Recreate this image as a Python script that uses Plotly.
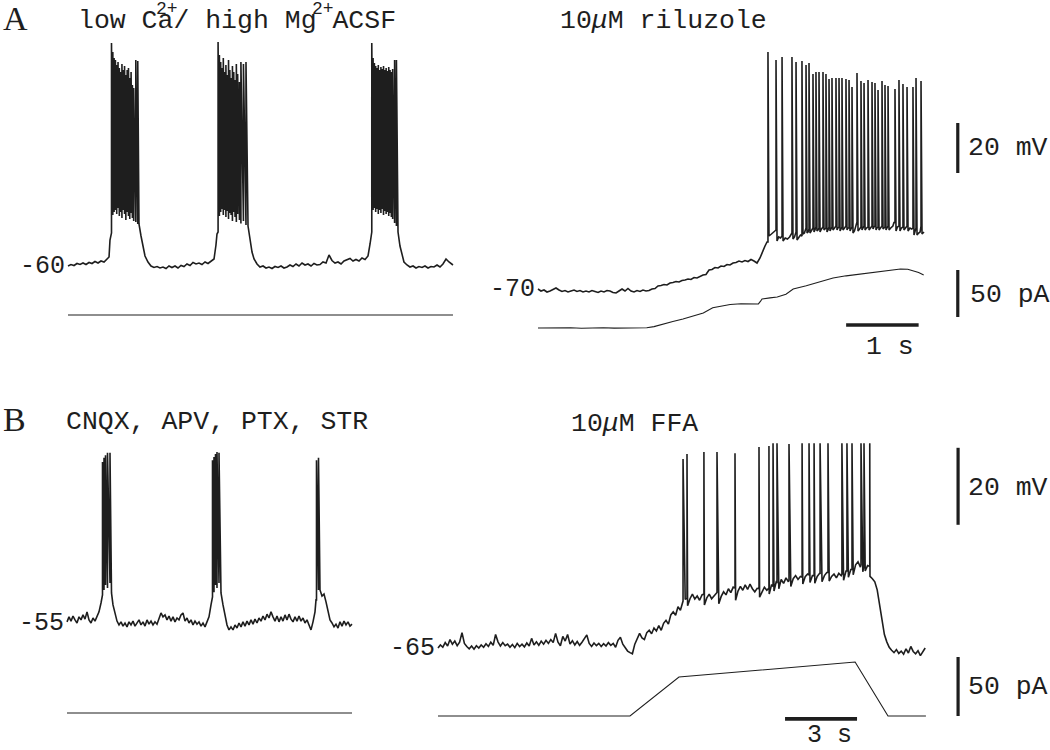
import plotly.graph_objects as go

W, H = 1050, 750
INK = "#1e1e1e"
MONO = "Liberation Mono, Courier New, monospace"
SERIF = "Liberation Serif, Times New Roman, serif"

# ---------------- A left: low Ca2+ / high Mg2+ ACSF (s, mV) ----------------
ACSF_T = [0.000, 0.041, 0.083, 0.124, 0.166, 0.207, 0.248, 0.290, 0.331, 0.372,
          0.414, 0.455, 0.497, 0.538, 0.566, 0.579, 0.593,
          0.979, 1.007, 1.034, 1.062, 1.103, 1.145, 1.186, 1.228, 1.269, 1.310,
          1.352, 1.393, 1.434, 1.476, 1.517, 1.559, 1.600, 1.641, 1.683, 1.724,
          1.766, 1.807, 1.848, 1.890, 1.931, 1.972, 2.014, 2.041, 2.055,
          2.483, 2.510, 2.538, 2.566, 2.607, 2.648, 2.690, 2.731, 2.772, 2.814,
          2.855, 2.897, 2.938, 2.979, 3.021, 3.062, 3.103, 3.145, 3.186, 3.228,
          3.269, 3.310, 3.352, 3.393, 3.434, 3.476, 3.517, 3.559, 3.600, 3.641,
          3.683, 3.724, 3.766, 3.807, 3.848, 3.890, 3.931, 3.972, 4.014, 4.055,
          4.097, 4.138, 4.166, 4.179,
          4.552, 4.579, 4.607, 4.634, 4.676, 4.717, 4.759, 4.800, 4.841, 4.883,
          4.924, 4.966, 5.007, 5.048, 5.090, 5.131, 5.172, 5.214, 5.255, 5.297, 5.310]
ACSF_V = [-60.0, -59.4, -59.8, -59.0, -59.4, -58.8, -59.4, -58.6, -59.0, -58.2,
          -58.8, -58.0, -58.4, -57.2, -56.4, -49.6, -46.8,
          -43.2, -48.0, -52.8, -56.0, -58.4, -60.0, -60.6, -60.2, -60.8, -60.4,
          -61.0, -60.0, -60.6, -60.0, -60.8, -59.8, -60.2, -59.2, -59.8, -58.6,
          -59.2, -58.8, -59.4, -58.4, -59.0, -58.2, -57.2, -51.6, -47.2,
          -44.0, -49.6, -54.4, -57.2, -59.2, -60.4, -60.0, -60.8, -60.4, -61.0,
          -60.2, -60.6, -60.0, -60.8, -60.4, -59.6, -60.2, -59.2, -60.0, -58.8,
          -59.6, -59.2, -60.0, -59.0, -59.6, -59.4, -58.4, -58.8, -55.6, -57.8,
          -58.8, -58.4, -59.2, -58.0, -57.6, -57.0, -58.0, -57.4, -58.0, -56.8,
          -57.4, -56.0, -51.2, -47.2,
          -46.4, -52.0, -56.0, -58.4, -59.6, -60.4, -60.0, -60.8, -60.2, -60.6,
          -60.0, -60.8, -60.2, -60.4, -59.6, -60.4, -59.2, -57.2, -58.4, -59.2, -59.6]
ACSF_SPK_T = [0.600, 0.618, 0.636, 0.654, 0.672, 0.690, 0.708, 0.726, 0.744, 0.762,
              0.780, 0.798, 0.816, 0.834, 0.852, 0.870, 0.888, 0.906, 0.935, 0.962,
              2.070, 2.088, 2.106, 2.124, 2.142, 2.160, 2.178, 2.196, 2.214, 2.232,
              2.250, 2.268, 2.286, 2.304, 2.322, 2.340, 2.365, 2.385, 2.420, 2.455,
              4.190, 4.208, 4.226, 4.244, 4.262, 4.280, 4.298, 4.316, 4.334, 4.352,
              4.370, 4.388, 4.406, 4.424, 4.442, 4.460, 4.478, 4.505, 4.530]
ACSF_SPK_FOOT = [-46.8, -39.6, -38.4, -37.6, -39.2, -36.8, -40.0, -38.4, -40.8, -37.6,
                 -39.2, -41.6, -38.4, -40.0, -41.2, -38.8, -40.8, -42.0, -42.4, -43.2,
                 -46.4, -40.0, -38.4, -37.2, -39.6, -37.6, -40.4, -38.0, -41.2, -38.8,
                 -39.6, -42.0, -38.4, -40.4, -42.4, -39.2, -41.6, -43.0, -42.0, -43.6,
                 -46.4, -37.6, -36.8, -38.4, -37.2, -39.2, -37.6, -38.8, -37.2, -39.6,
                 -38.0, -39.2, -38.4, -40.0, -38.8, -40.4, -41.2, -42.8, -44.0]
ACSF_SPK_PK = [29.2, 25.6, 23.2, 22.4, 20.4, 21.6, 19.2, 17.6, 20.8, 18.4,
               20.0, 16.4, 18.4, 19.2, 15.2, 17.6, 12.4, 11.2, 22.4, 22.0,
               29.6, 24.4, 21.6, 19.2, 23.2, 17.6, 20.4, 16.4, 22.4, 18.4,
               15.2, 20.0, 17.6, 14.4, 20.8, 16.8, 13.6, 21.6, 20.8, 21.6,
               29.2, 23.2, 21.2, 20.0, 19.2, 20.4, 18.4, 19.6, 18.8, 20.0,
               18.4, 19.2, 18.0, 19.6, 18.4, 17.6, 18.8, 22.4, 22.4]
ACSF_I_T = [0.0, 5.31]
ACSF_I = [0.0, 0.0]

# ---------------- A right: 10 uM riluzole (s, mV, pA) ----------------
RIL_T = [0.000, 0.041, 0.083, 0.124, 0.166, 0.207, 0.248, 0.290, 0.331, 0.372,
         0.414, 0.455, 0.497, 0.538, 0.579, 0.621, 0.662, 0.703, 0.745, 0.786,
         0.828, 0.869, 0.910, 0.952, 0.993, 1.034, 1.076, 1.117, 1.159, 1.200,
         1.241, 1.283, 1.324, 1.366, 1.407, 1.448, 1.490, 1.531, 1.572, 1.614,
         1.655, 1.697, 1.738, 1.779, 1.821, 1.862, 1.903, 1.945, 1.986, 2.028,
         2.069, 2.110, 2.152, 2.193, 2.234, 2.276, 2.317, 2.359, 2.400, 2.441,
         2.483, 2.524, 2.566, 2.607, 2.648, 2.690, 2.731, 2.772, 2.814, 2.855,
         2.897, 2.938, 2.979, 3.021, 3.062, 3.103, 3.131, 3.159,
         3.186, 3.220, 3.250, 3.297, 3.320, 3.345, 3.380, 3.410, 3.440, 3.470,
         3.517, 3.538, 3.573, 3.600, 3.620, 3.655, 3.675, 3.711, 3.724, 3.752,
         3.772, 3.807, 3.820, 3.848, 3.862, 3.890, 3.910, 3.945, 3.958, 3.986,
         4.000, 4.028, 4.041, 4.069, 4.090, 4.124, 4.138, 4.166, 4.180, 4.207,
         4.228, 4.262, 4.276, 4.304, 4.317, 4.345, 4.365, 4.385, 4.414, 4.435,
         4.469, 4.483, 4.511, 4.531, 4.566, 4.586, 4.621, 4.634, 4.662, 4.676,
         4.704, 4.724, 4.759, 4.772, 4.800, 4.814, 4.842, 4.865, 4.895, 4.912,
         4.938, 4.958, 4.993, 5.013, 5.048, 5.069, 5.104, 5.130, 5.155, 5.186,
         5.200, 5.228, 5.250, 5.270, 5.297, 5.324]
RIL_V = [-70.0, -70.8, -70.4, -71.2, -70.8, -70.2, -69.6, -70.4, -71.0, -70.6,
         -71.2, -70.8, -70.4, -71.0, -70.6, -71.2, -70.8, -71.2, -70.6, -71.0,
         -71.4, -70.8, -71.2, -70.6, -70.8, -71.4, -71.6, -70.8, -70.0, -70.8,
         -69.8, -70.8, -71.2, -70.6, -71.0, -70.4, -70.8, -70.6, -70.0, -69.8,
         -68.8, -68.6, -68.2, -68.4, -67.6, -67.4, -67.0, -67.2, -66.6, -66.4,
         -66.0, -66.2, -65.4, -65.6, -65.0, -64.4, -64.2, -62.4, -62.2, -61.4,
         -61.6, -60.8, -61.0, -60.2, -60.4, -59.6, -59.4, -58.8, -59.2, -58.6,
         -59.0, -58.2, -58.8, -59.6, -57.6, -54.4, -52.8, -51.2,
         -48.8, -48.0, -47.2, -50.8, -49.2, -49.6, -50.8, -49.6, -50.0, -49.2,
         -50.0, -49.2, -50.4, -49.2, -48.4, -48.0, -47.6, -47.6, -47.2, -47.6,
         -46.8, -47.2, -46.4, -46.8, -46.4, -47.2, -46.0, -46.4, -46.0, -47.2,
         -46.4, -46.8, -46.0, -46.4, -45.6, -46.4, -45.6, -46.8, -46.0, -46.4,
         -45.6, -46.4, -45.6, -46.8, -46.0, -47.6, -46.8, -44.4, -46.8, -46.0,
         -46.4, -45.6, -46.4, -45.6, -46.4, -45.6, -46.0, -45.2, -46.4, -45.6,
         -46.4, -45.6, -46.0, -45.6, -46.4, -45.6, -46.4, -45.6, -44.8, -43.2,
         -46.8, -45.2, -46.8, -45.6, -46.4, -45.6, -46.8, -45.6, -46.0, -48.4,
         -47.2, -48.4, -47.6, -47.2, -48.0, -47.2]
RIL_SPK_T = [3.172, 3.283, 3.366, 3.503, 3.559, 3.641, 3.697, 3.738, 3.793, 3.834,
             3.876, 3.931, 3.972, 4.014, 4.055, 4.110, 4.152, 4.193, 4.248, 4.290,
             4.331, 4.400, 4.455, 4.497, 4.552, 4.607, 4.648, 4.690, 4.745, 4.786,
             4.828, 4.924, 4.979, 5.034, 5.090, 5.172, 5.214, 5.283]
RIL_SPK_FOOT = [-51.2, -46.4, -48.8, -47.6, -47.2, -48.8, -45.6, -46.0, -45.6, -45.2,
                -45.6, -45.2, -45.6, -45.2, -45.2, -44.8, -45.2, -45.2, -44.8, -45.6,
                -45.2, -43.2, -45.2, -44.8, -45.2, -44.8, -44.8, -45.2, -44.8, -45.2,
                -44.8, -43.6, -44.8, -45.2, -44.8, -45.6, -45.6, -44.8]
RIL_SPK_PK = [24.8, 21.6, 22.8, 22.8, 20.8, 21.2, 19.6, 20.4, 16.0, 16.8,
              16.8, 16.8, 16.0, 14.0, 14.4, 14.4, 14.4, 14.4, 14.0, 13.6,
              10.8, 16.4, 13.2, 12.4, 13.6, 12.8, 12.4, 9.6, 13.2, 11.6,
              11.2, 10.0, 13.6, 12.0, 10.8, 10.8, 14.4, 13.2]
RIL_I_T = [0.0, 0.15, 0.3, 0.45, 0.6, 0.75, 0.9, 1.05, 1.2, 1.35,
           1.5, 1.6, 1.72, 1.86, 2.0, 2.14, 2.28, 2.41, 2.5, 2.65,
           2.8, 2.95, 3.04, 3.07, 3.09, 3.2, 3.3, 3.42, 3.52, 3.7,
           3.9, 4.07, 4.25, 4.45, 4.68, 4.85, 5.0, 5.1, 5.17, 5.25, 5.32]
RIL_I = [0.0, 0.3, -0.2, 0.2, -0.3, 0.1, 0.3, -0.1, 0.2, -0.2,
         0.3, 1.5, 4.3, 7.0, 9.6, 12.5, 16.0, 21.5, 23.0, 25.0,
         25.8, 25.3, 25.6, 28.5, 30.9, 32.0, 33.0, 36.0, 41.5, 45.0,
         49.5, 53.2, 55.5, 57.5, 59.6, 61.8, 62.8, 62.5, 61.0, 59.0, 56.4]

# ---------------- B left: CNQX, APV, PTX, STR (s, mV) ----------------
SYN_T = [0.00, 0.08, 0.16, 0.24, 0.32, 0.40, 0.48, 0.56, 0.64, 0.72,
         0.80, 0.88, 0.96, 1.04, 1.12, 1.20, 1.28, 1.36, 1.40,
         1.78, 1.84, 1.92, 2.00, 2.08, 2.16, 2.24, 2.32, 2.40, 2.48,
         2.56, 2.64, 2.72, 2.80, 2.88, 2.96, 3.04, 3.12, 3.20, 3.28,
         3.36, 3.44, 3.52, 3.60, 3.68, 3.76, 3.84, 3.92, 4.00, 4.08,
         4.16, 4.24, 4.32, 4.40, 4.48, 4.56, 4.64, 4.72, 4.80, 4.88,
         4.96, 5.04, 5.12, 5.20, 5.28, 5.36, 5.44, 5.52, 5.60, 5.68, 5.76, 5.80,
         6.16, 6.24, 6.32, 6.40, 6.48, 6.56, 6.64, 6.72, 6.80, 6.88,
         6.96, 7.04, 7.12, 7.20, 7.28, 7.36, 7.44, 7.52, 7.60, 7.68,
         7.76, 7.84, 7.92, 8.00, 8.08, 8.16, 8.24, 8.32, 8.40, 8.48,
         8.56, 8.64, 8.72, 8.80, 8.88, 8.96, 9.04, 9.12, 9.20, 9.28,
         9.36, 9.44, 9.52, 9.60, 9.68, 9.76, 9.84, 9.92, 9.96,
         10.12, 10.20, 10.28, 10.36, 10.44, 10.52, 10.60, 10.68, 10.76, 10.84,
         10.92, 11.00, 11.08, 11.16, 11.24, 11.32, 11.40]
SYN_V = [-54.7, -53.4, -54.5, -53.2, -54.2, -55.0, -53.4, -54.2, -52.9, -54.0,
         -52.1, -54.2, -55.0, -53.7, -54.5, -53.4, -52.1, -49.8, -47.7,
         -47.2, -50.3, -52.7, -54.5, -55.5, -54.7, -55.8, -55.0, -56.0, -54.7,
         -55.5, -54.5, -55.8, -55.0, -54.2, -55.5, -54.7, -55.8, -54.2, -55.3,
         -54.5, -55.5, -54.7, -55.3, -54.0, -52.4, -53.4, -52.9, -54.2, -53.2,
         -54.5, -53.4, -54.7, -53.7, -54.2, -52.9, -52.4, -54.5, -53.7, -55.0,
         -54.2, -55.5, -54.5, -55.3, -54.7, -55.8, -55.0, -56.0, -54.7, -53.4, -50.3, -48.2,
         -47.2, -50.3, -53.4, -55.5, -56.8, -56.0, -56.8, -55.5, -56.3, -55.0,
         -56.0, -54.7, -55.8, -54.5, -55.5, -54.2, -55.3, -54.0, -55.0, -53.7,
         -54.5, -53.2, -54.2, -52.7, -53.7, -52.1, -53.4, -54.5, -53.2, -54.7,
         -53.4, -54.5, -52.9, -54.2, -52.7, -54.0, -54.7, -53.4, -54.5, -53.2,
         -54.5, -53.7, -55.0, -54.2, -55.5, -56.8, -54.7, -52.1, -49.0,
         -46.4, -48.0, -47.5, -49.5, -52.1, -54.2, -55.0, -56.0, -55.3, -56.3,
         -54.7, -55.8, -54.5, -55.5, -54.7, -55.8, -55.3]
SYN_SPK_T = [1.42, 1.48, 1.54, 1.62, 1.72, 5.82, 5.88, 5.94, 6.00, 6.08, 9.98, 10.06]
SYN_SPK_FOOT = [-47.7, -46.4, -45.1, -45.9, -44.6, -48.2, -47.0, -45.1, -45.9, -44.6, -49.0, -46.4]
SYN_SPK_PK = [-13.2, -12.1, -11.4, -10.8, -10.8, -12.7, -11.9, -11.1, -10.6, -10.8, -12.7, -12.1]
SYN_I_T = [0.0, 11.4]
SYN_I = [0.0, 0.0]

# ---------------- B right: 10 uM FFA (s, mV, pA) ----------------
FFA_T = [0.0, 0.1, 0.2, 0.3, 0.4, 0.5, 0.6, 0.7, 0.8, 0.9,
         1.0, 1.1, 1.2, 1.3, 1.4, 1.5, 1.6, 1.7, 1.8, 1.9,
         2.0, 2.1, 2.2, 2.3, 2.4, 2.5, 2.6, 2.7, 2.8, 2.9,
         3.0, 3.1, 3.2, 3.3, 3.4, 3.5, 3.6, 3.7, 3.8, 3.9,
         4.0, 4.1, 4.2, 4.3, 4.4, 4.5, 4.6, 4.7, 4.8, 4.9,
         5.0, 5.1, 5.2, 5.3, 5.4, 5.5, 5.6, 5.7, 5.8, 5.9,
         6.0, 6.1, 6.2, 6.3, 6.4, 6.5, 6.6, 6.7, 6.8, 6.9,
         7.0, 7.1, 7.2, 7.3, 7.4, 7.5, 7.6, 7.7, 7.8, 7.9,
         8.0, 8.1, 8.2, 8.3, 8.4, 8.5, 8.6, 8.7, 8.8, 8.9,
         9.0, 9.1, 9.2, 9.3, 9.4, 9.5, 9.6, 9.7, 9.8, 9.9,
         10.0, 10.1, 10.2, 10.3, 10.4, 10.5, 10.6, 10.7, 10.8, 10.9,
         11.0, 11.1, 11.2, 11.3, 11.4, 11.5, 11.6, 11.7, 11.8, 11.9,
         12.0, 12.1, 12.2, 12.3, 12.4, 12.5, 12.6, 12.7, 12.8, 12.9,
         13.0, 13.1, 13.2, 13.3, 13.4, 13.5, 13.6, 13.7, 13.8, 13.9,
         14.0, 14.1, 14.2, 14.3, 14.4, 14.5, 14.6, 14.7, 14.8, 14.9,
         15.0, 15.1, 15.2, 15.3, 15.4, 15.5, 15.6, 15.7, 15.8, 15.9,
         16.0, 16.1, 16.2, 16.3, 16.4, 16.5, 16.6, 16.7, 16.8, 16.9,
         17.0, 17.1, 17.2, 17.3, 17.4, 17.5, 17.6, 17.7, 17.8, 17.9,
         18.0, 18.1, 18.2, 18.3, 18.4, 18.5, 18.6, 18.7, 18.8, 18.9,
         19.0, 19.1, 19.2, 19.3, 19.4, 19.5, 19.6, 19.7, 19.8, 19.9,
         20.0, 20.1, 20.2, 20.3]
FFA_V = [-65.0, -64.2, -64.8, -63.6, -64.5, -62.8, -64.0, -63.2, -64.4, -63.5,
         -61.0, -63.8, -64.6, -65.2, -64.5, -65.3, -64.4, -65.0, -64.2, -64.8,
         -63.9, -64.6, -63.5, -64.3, -61.5, -63.4, -64.5, -63.6, -64.4, -64.0,
         -64.8, -64.1, -64.9, -63.8, -64.6, -64.0, -64.7, -63.7, -64.5, -62.5,
         -64.2, -63.4, -64.3, -63.2, -64.0, -63.0, -63.8, -62.8, -63.6, -61.2,
         -63.5, -64.4, -62.0, -63.2, -61.5, -64.0, -63.1, -64.2, -63.3, -64.3,
         -63.5, -62.6, -61.6, -63.8, -64.6, -63.7, -64.4, -63.8, -64.6, -63.9,
         -64.5, -63.6, -64.3, -63.8, -64.8, -63.0, -62.2, -64.0, -64.9, -65.8,
         -66.2, -66.5, -64.0, -62.5, -61.2, -62.4, -62.8, -61.0, -60.4, -61.3,
         -59.8, -60.6, -59.2, -60.4, -58.6, -57.8, -58.8, -56.4, -55.6, -56.5,
         -54.3, -55.2, -53.0, -52.4, -54.0, -52.2, -51.0, -52.3, -51.5, -52.6,
         -51.2, -53.8, -52.0, -51.0, -52.2, -51.4, -50.5, -53.5, -51.6, -50.4,
         -51.2, -49.6, -50.6, -49.2, -52.6, -50.2, -49.0, -50.0, -48.6, -49.8,
         -48.4, -49.6, -50.4, -49.5, -51.8, -50.5, -49.2, -50.0, -51.0, -48.5,
         -50.2, -47.6, -49.6, -47.2, -48.2, -46.8, -47.8, -49.0, -47.0, -46.2,
         -47.2, -46.4, -48.4, -46.5, -45.8, -48.0, -46.2, -48.2, -46.4, -45.6,
         -47.8, -46.2, -45.4, -47.6, -46.4, -45.8, -46.8, -45.6, -46.2, -47.4,
         -45.0, -46.6, -44.6, -46.0, -43.4, -42.6, -44.0, -45.2, -45.0, -43.6,
         -46.4, -47.0, -47.8, -49.9, -54.0, -58.0, -61.5, -63.4, -64.8, -65.6,
         -66.2, -65.4, -66.4, -65.8, -66.6, -65.2, -66.3, -64.6, -65.9, -66.5,
         -65.7, -67.0, -66.0, -65.0]
FFA_SPK_T = [10.21, 10.375, 11.08, 11.625, 12.375, 13.375, 13.79, 13.96, 14.125, 14.625,
             15.17, 15.46, 15.67, 15.92, 16.25, 16.83, 17.04, 17.25, 17.625, 17.75, 17.99]
FFA_SPK_FOOT = [-52.8, -52.0, -51.0, -50.6, -49.4, -49.6, -49.4, -49.0, -48.2, -47.4,
                -46.6, -46.0, -46.2, -45.8, -45.4, -45.8, -45.0, -44.6, -43.4, -43.6, -43.8]
FFA_SPK_PK = [-15.9, -14.6, -14.1, -14.1, -14.4, -12.8, -12.5, -11.8, -11.8, -12.0,
              -11.8, -11.8, -11.8, -11.8, -11.8, -11.8, -11.8, -11.8, -11.8, -11.8, -11.8]
FFA_I_T = [0.0, 8.0, 10.04, 17.38, 18.75, 20.33]
FFA_I = [0.0, 0.0, 33.0, 45.8, 0.0, 0.0]

# scale bar sizes
BAR_A_S, BAR_B_S = 1, 3
BAR_MV = 20
BAR_PA = 50


def with_spikes(bt, bv, st, sf, sp):
    assert len(bt) == len(bv) and len(st) == len(sf) == len(sp)
    pts = [(t, 0, v) for t, v in zip(bt, bv)]
    for t, f, p in zip(st, sf, sp):
        pts += [(t, 1, f), (t, 2, p)]
    pts.sort(key=lambda q: (q[0], q[1]))
    return [q[0] for q in pts], [q[2] for q in pts]


# pixel layout of each panel: box, time anchor, px per s, Vm anchor, px per mV, I anchor, px per pA
PANELS = [
    dict(xb=(20, 470), yb=(30, 345), tpx=68, sx=72.5, vpx=266, v0=-60, sv=2.5, ipx=315, si=0.94),
    dict(xb=(480, 1050), yb=(30, 372), tpx=538, sx=72.5, vpx=289, v0=-70, sv=2.5, ipx=328, si=0.94),
    dict(xb=(20, 372), yb=(432, 735), tpx=67, sx=25.0, vpx=623, v0=-55, sv=3.85, ipx=713, si=1.18),
    dict(xb=(378, 1050), yb=(432, 750), tpx=438, sx=24.0, vpx=648, v0=-65, sv=3.85, ipx=716, si=1.18),
]

layout = dict(width=W, height=H, margin=dict(l=0, r=0, t=0, b=0),
              paper_bgcolor="white", plot_bgcolor="white", showlegend=False)
refs = []
for k, p in enumerate(PANELS, start=1):
    xs = "" if k == 1 else str(k)
    yv, yi = 2 * k - 1, 2 * k
    yvs = "" if yv == 1 else str(yv)
    x0, x1 = p["xb"]
    top, bot = p["yb"]
    layout["xaxis" + xs] = dict(domain=[x0 / W, x1 / W], visible=False, fixedrange=True,
                                anchor="y" + yvs,
                                range=[-(p["tpx"] - x0) / p["sx"], (x1 - p["tpx"]) / p["sx"]])
    layout["yaxis" + yvs] = dict(domain=[1 - bot / H, 1 - top / H], visible=False, fixedrange=True,
                                 anchor="x" + xs,
                                 range=[p["v0"] - (bot - p["vpx"]) / p["sv"], p["v0"] + (p["vpx"] - top) / p["sv"]])
    layout["yaxis" + str(yi)] = dict(overlaying="y" + yvs, visible=False, fixedrange=True,
                                     anchor="x" + xs,
                                     range=[-(bot - p["ipx"]) / p["si"], (p["ipx"] - top) / p["si"]])
    refs.append(("x" + xs, "y" + yvs, "y" + str(yi)))

fig = go.Figure(layout=layout)


def line(x, y, ax, width=1.3):
    fig.add_trace(go.Scatter(x=x, y=y, xaxis=ax[0], yaxis=ax[1], mode="lines",
                             line=dict(color=INK, width=width), hoverinfo="skip"))


traces = [
    (ACSF_T, ACSF_V, ACSF_SPK_T, ACSF_SPK_FOOT, ACSF_SPK_PK, ACSF_I_T, ACSF_I),
    (RIL_T, RIL_V, RIL_SPK_T, RIL_SPK_FOOT, RIL_SPK_PK, RIL_I_T, RIL_I),
    (SYN_T, SYN_V, SYN_SPK_T, SYN_SPK_FOOT, SYN_SPK_PK, SYN_I_T, SYN_I),
    (FFA_T, FFA_V, FFA_SPK_T, FFA_SPK_FOOT, FFA_SPK_PK, FFA_I_T, FFA_I),
]
for (bt, bv, st, sf, sp, it, iv), (xr, yvr, yir) in zip(traces, refs):
    tt, vv = with_spikes(bt, bv, st, sf, sp)
    line(tt, vv, (xr, yvr), 1.6)
    line(it, iv, (xr, yir), 1.1)

# scale bars (A: right panel, B: right panel)
xa, va, ia = refs[1]
line([4.25, 4.25 + BAR_A_S], [-84.4, -84.4], (xa, va), 3.5)
line([5.79, 5.79], [-23.6, -23.6 + BAR_MV], (xa, va), 3.2)
line([5.79, 5.79], [11.7, 11.7 + BAR_PA], (xa, ia), 3.2)
xb, vb, ib = refs[3]
line([14.46, 14.46 + BAR_B_S], [-83.4, -83.4], (xb, vb), 3.8)
line([21.67, 21.67], [-33.0, -33.0 + BAR_MV], (xb, vb), 3.2)
line([21.67, 21.67], [0.0, BAR_PA], (xb, ib), 3.2)


def note(text, px, py, size=26.5, xanchor="left", family=MONO):
    return dict(text=text, x=px / W, y=1 - py / H, xref="paper", yref="paper",
                xanchor=xanchor, yanchor="middle", showarrow=False,
                font=dict(family=family, size=size, color=INK))


def vlabel(text, ax, v):
    return dict(text=text, x=0, y=v, xref=ax[0], yref=ax[1], xanchor="right", yanchor="middle",
                xshift=-1, showarrow=False, font=dict(family=MONO, size=25, color=INK))


anns = [
    note("A", 1, 18, 34, family=SERIF),
    note("low Ca/ high Mg ACSF", 76, 21),
    note("2+", 154, 9, 18),
    note("2+", 310, 9, 18),
    note("10<i>μ</i>M riluzole", 558, 21),
    note("B", 1, 419, 34, family=SERIF),
    note("CNQX, APV, PTX, STR", 64, 422),
    note("10<i>μ</i>M FFA", 569, 424),
    note("20 mV", 966, 148),
    note("50 pA", 968, 295),
    note("1 s", 890, 347, xanchor="center"),
    note("20 mV", 966, 488),
    note("50 pA", 966, 687),
    note("3 s", 829, 735, size=25, xanchor="center"),
    vlabel("-60", refs[0], -60),
    vlabel("-70", refs[1], -70),
    vlabel("-55", refs[2], -55),
    vlabel("-65", refs[3], -65),
]
fig.update_layout(annotations=anns)

# the page body carries a default 8px margin; remove it so the figure fills the window
fig.write_html("out.html", config={"displayModeBar": False},
               post_script="document.body.style.margin='0';")
